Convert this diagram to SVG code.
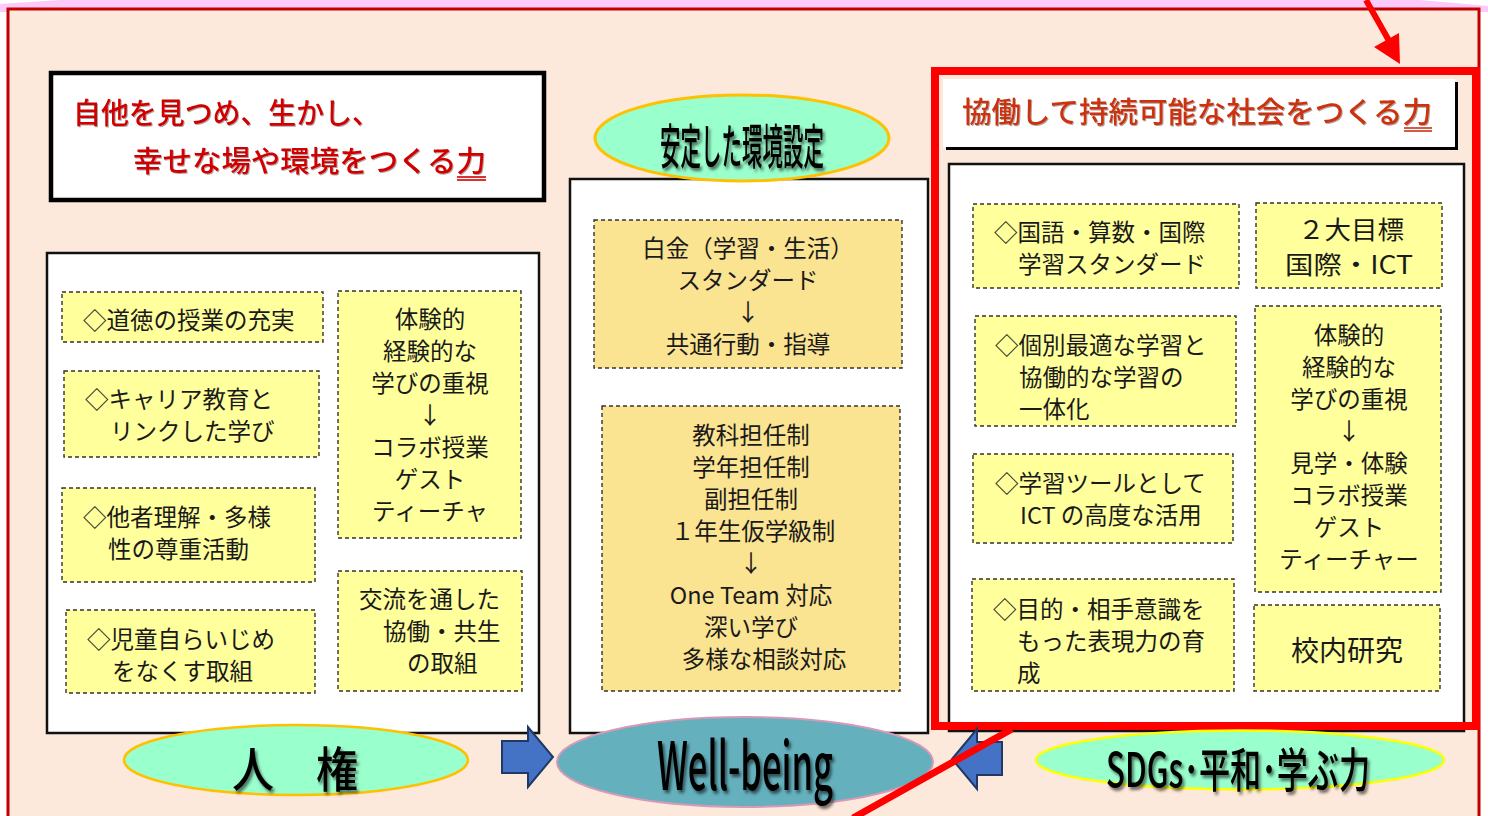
<svg xmlns="http://www.w3.org/2000/svg" width="1488" height="816" viewBox="0 0 1488 816">
<defs>
<style>
.t{font-family:"Noto Sans CJK JP","Noto Sans",sans-serif;fill:#1a1a1a;font-size:23.5px;dominant-baseline:central}
.c{text-anchor:middle}
.yb{fill:#ffff9c;stroke:#333;stroke-width:1.4;stroke-dasharray:4 3}
.gb{fill:#fae391;stroke:#333;stroke-width:1.4;stroke-dasharray:4 3}
.panel{fill:#fff;stroke:#111;stroke-width:2.5}
.big{font-family:"Noto Sans CJK JP","Noto Sans",sans-serif;fill:#000;font-weight:500;text-anchor:middle;dominant-baseline:alphabetic}
.ttl{font-family:"Noto Sans CJK JP","Noto Sans",sans-serif;font-size:29px;font-weight:500}
.arr{fill:#4472c4;stroke:#203864;stroke-width:2}
</style>
<filter id="sh" x="-10%" y="-10%" width="120%" height="130%">
<feDropShadow dx="2" dy="3" stdDeviation="1.8" flood-color="#000" flood-opacity="0.55"/>
</filter>
<filter id="sh2" x="-10%" y="-10%" width="120%" height="130%">
<feDropShadow dx="1" dy="1" stdDeviation="0.6" flood-color="#000" flood-opacity="0.35"/>
</filter>
</defs>
<rect x="0" y="0" width="1488" height="816" fill="#fff"/>
<polygon points="60,0 1420,0 1488,6 1488,12 0,12 0,4" fill="#fccaf8"/>
<rect x="8" y="9" width="1471" height="820" fill="#fde9db" stroke="#c00000" stroke-width="3"/>

<g id="title-left">
<rect x="51" y="73" width="493" height="127" fill="#fff" stroke="#000" stroke-width="4.5"/>
<text class="ttl" x="73" y="124" fill="#d00000" textLength="307" lengthAdjust="spacingAndGlyphs" filter="url(#sh2)">自他を見つめ、生かし、</text>
<text class="ttl" x="133" y="172" fill="#d00000" textLength="353" lengthAdjust="spacingAndGlyphs" filter="url(#sh2)">幸せな場や環境をつくる力</text>
<line x1="457" y1="177" x2="486" y2="177" stroke="#d00000" stroke-width="1.6"/>
<line x1="457" y1="180" x2="486" y2="180" stroke="#d00000" stroke-width="1.6"/>
</g>

<g id="panel-left">
<rect class="panel" x="47" y="253" width="492" height="480"/>
</g>
<g id="n-doutoku"><rect class="yb" x="62" y="292" width="261" height="50"/><text class="t" x="83" y="319">◇道徳の授業の充実</text></g>
<g id="n-career"><rect class="yb" x="64" y="371" width="255" height="86"/><text class="t" x="85" y="398">◇キャリア教育と</text><text class="t" x="110" y="430">リンクした学び</text></g>
<g id="n-tasha"><rect class="yb" x="62" y="488" width="253" height="94"/><text class="t" x="83" y="516">◇他者理解・多様</text><text class="t" x="108" y="548">性の尊重活動</text></g>
<g id="n-ijime"><rect class="yb" x="66" y="610" width="249" height="83"/><text class="t" x="87" y="638">◇児童自らいじめ</text><text class="t" x="112" y="670">をなくす取組</text></g>
<g id="n-taiken-l"><rect class="yb" x="338" y="291" width="183" height="247"/>
<text class="t c" x="430" y="318">体験的</text><text class="t c" x="430" y="350">経験的な</text><text class="t c" x="430" y="382">学びの重視</text><text class="t c" x="430" y="414">↓</text><text class="t c" x="430" y="446">コラボ授業</text><text class="t c" x="430" y="478">ゲスト</text><text class="t c" x="430" y="510">ティーチャ</text></g>
<g id="n-kouryu"><rect class="yb" x="338" y="571" width="184" height="120"/><text class="t" x="359" y="598">交流を通した</text><text class="t" x="383" y="630">協働・共生</text><text class="t" x="407" y="662">の取組</text></g>

<g id="panel-center">
<rect class="panel" x="570" y="179" width="358" height="554"/>
</g>
<g id="n-hakkin"><rect class="gb" x="594" y="220" width="308" height="148"/>
<text class="t c" x="748" y="247">白金（学習・生活）</text><text class="t c" x="748" y="279">スタンダード</text><text class="t c" x="748" y="311">↓</text><text class="t c" x="748" y="343">共通行動・指導</text></g>
<g id="n-tannin"><rect class="gb" x="602" y="406" width="298" height="285"/>
<text class="t c" x="751" y="434">教科担任制</text><text class="t c" x="751" y="466">学年担任制</text><text class="t c" x="751" y="498">副担任制</text><text class="t c" x="753" y="530">１年生仮学級制</text><text class="t c" x="751" y="562">↓</text><text class="t c" x="751" y="594">One Team 対応</text><text class="t c" x="751" y="626">深い学び</text><text class="t c" x="764" y="658">多様な相談対応</text></g>

<g id="e-antei">
<ellipse cx="742" cy="138" rx="147" ry="43" fill="#99ffcc" stroke="#ffc000" stroke-width="3"/>
<text class="big" x="742" y="164" font-size="48" textLength="164" lengthAdjust="spacingAndGlyphs" filter="url(#sh)">安定した環境設定</text>
</g>

<g id="panel-right">
<rect class="panel" x="949" y="164" width="515" height="567"/>
</g>
<g id="n-kokugo"><rect class="yb" x="973" y="204" width="266" height="84"/><text class="t" x="994" y="231">◇国語・算数・国際</text><text class="t" x="1018" y="263">学習スタンダード</text></g>
<g id="n-mokuhyo"><rect class="yb" x="1256" y="203" width="186" height="85"/><text class="t c" x="1351" y="228" style="font-size:25px" textLength="106" lengthAdjust="spacingAndGlyphs">２大目標</text><text class="t c" x="1349" y="263" style="font-size:25px" textLength="128" lengthAdjust="spacingAndGlyphs">国際・ICT</text></g>
<g id="n-kobetsu"><rect class="yb" x="975" y="316" width="261" height="110"/><text class="t" x="995" y="344">◇個別最適な学習と</text><text class="t" x="1019" y="376">協働的な学習の</text><text class="t" x="1019" y="408">一体化</text></g>
<g id="n-taiken-r"><rect class="yb" x="1255" y="306" width="186" height="286"/>
<text class="t c" x="1349" y="334">体験的</text><text class="t c" x="1349" y="366">経験的な</text><text class="t c" x="1349" y="398">学びの重視</text><text class="t c" x="1349" y="430">↓</text><text class="t c" x="1349" y="462">見学・体験</text><text class="t c" x="1349" y="494">コラボ授業</text><text class="t c" x="1349" y="526">ゲスト</text><text class="t c" x="1349" y="558">ティーチャー</text></g>
<g id="n-ict"><rect class="yb" x="973" y="454" width="260" height="89"/><text class="t" x="995" y="482">◇学習ツールとして</text><text class="t" x="1020" y="514">ICT の高度な活用</text></g>
<g id="n-mokuteki"><rect class="yb" x="972" y="579" width="262" height="112"/><text class="t" x="993" y="608">◇目的・相手意識を</text><text class="t" x="1017" y="640">もった表現力の育</text><text class="t" x="1017" y="672">成</text></g>
<g id="n-kounai"><rect class="yb" x="1254" y="605" width="186" height="86"/><text class="t c" x="1347" y="649" style="font-size:28px">校内研究</text></g>

<g id="e-jinken">
<ellipse cx="296" cy="760" rx="172" ry="35" fill="#99ffcc" stroke="#ffc000" stroke-width="2.5"/>
<text class="big" x="295" y="787" font-size="48" textLength="126" lengthAdjust="spacingAndGlyphs" filter="url(#sh)">人　権</text>
</g>

<g id="frame-right">
<rect x="935" y="71" width="541" height="655" fill="none" stroke="#ff0000" stroke-width="8"/>
<rect x="946" y="82" width="512" height="68" fill="#000"/>
<rect x="943" y="79" width="512" height="68" fill="#fff"/>
<text class="ttl" x="962" y="123" fill="#cc3311" textLength="470" lengthAdjust="spacingAndGlyphs" filter="url(#sh2)">協働して持続可能な社会をつくる力</text>
<line x1="1404" y1="128" x2="1432" y2="128" stroke="#cc3311" stroke-width="1.6"/>
<line x1="1404" y1="131" x2="1432" y2="131" stroke="#cc3311" stroke-width="1.6"/>
</g>

<g id="e-sdgs">
<ellipse cx="1240" cy="760" rx="204" ry="29.5" fill="#99ffcc" stroke="#ffff00" stroke-width="2.5"/>
<text class="big" x="1238" y="787" font-size="47" textLength="264" lengthAdjust="spacingAndGlyphs" filter="url(#sh)">SDGs･平和･学ぶ力</text>
</g>

<g id="connectors">
<polygon class="arr" points="502,741 528,741 528,727 553,757 528,787 528,773 502,773"/>
<polygon class="arr" points="1002,742 977,742 977,729 952,759 977,789 977,775 1002,775"/>
<line x1="1366" y1="0" x2="1392" y2="46" stroke="#ff0000" stroke-width="6"/>
<polygon points="1400,64 1374,47 1399,33" fill="#ff0000"/>
</g>

<g id="e-wellbeing">
<ellipse cx="745" cy="762" rx="188" ry="45" fill="#64b0bd" stroke="#d49ab8" stroke-width="2"/>
<text class="big" x="745" y="790" font-size="66" font-weight="400" textLength="176" lengthAdjust="spacingAndGlyphs" filter="url(#sh)">Well-being</text>
</g>
<g id="red-line">
<line x1="1012" y1="729" x2="853" y2="818" stroke="#ff0000" stroke-width="7"/>
</g>
</svg>
